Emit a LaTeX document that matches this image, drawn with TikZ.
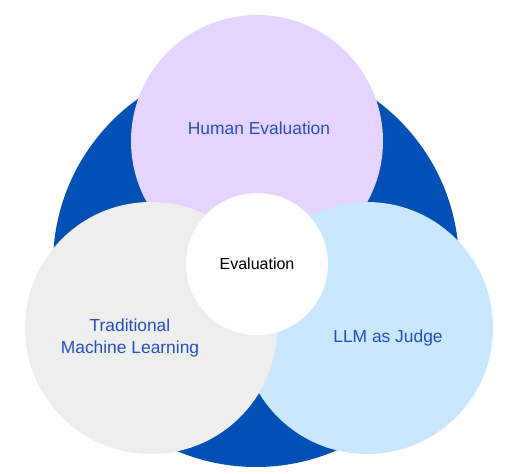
\documentclass[tikz,border=0pt]{standalone}
\usepackage{fontspec}
\setmainfont{Liberation Sans}
\usepackage{xcolor}
\definecolor{evalblue}{HTML}{0050B5}
\definecolor{evalpurple}{HTML}{E5D4FF}
\definecolor{evalgrey}{HTML}{EEEEEE}
\definecolor{evalsky}{HTML}{C9E7FF}
\definecolor{evaltext}{HTML}{2450BE}
\usetikzlibrary{positioning}

\begin{document}
\begin{tikzpicture}[
  x=1pt, y=-1pt,
  disc/.style={circle, draw=none, inner sep=0pt},
  lab/.style={text=evaltext, align=center, font=\fontsize{17.4}{21.5}\selectfont},
]
  \useasboundingbox (0,0) rectangle (512,474);
  \node[disc, fill=evalblue, minimum size=406pt]   (outer) at (256,264) {};
  \node[disc, fill=evalpurple, minimum size=252pt] (human) at (257,141) {};
  \node[disc, fill=evalsky, minimum size=252pt]    (llm) at (367,328) {};
  \node[disc, fill=evalgrey, minimum size=252pt]   (trad) at (151,328) {};
  \node[disc, fill=white, minimum size=142pt]      (core) at (257,264) {};
  \node[lab] (humanlab) at (259,128) {Human Evaluation};
  \node[lab] (tradlab) at (130,338) {Traditional\\Machine Learning};
  \node[lab] (llmlab) at (388,338) {LLM as Judge};
  \node[font=\fontsize{16}{19}\selectfont] (corelab) at (core) {Evaluation};
\end{tikzpicture}
\end{document}
